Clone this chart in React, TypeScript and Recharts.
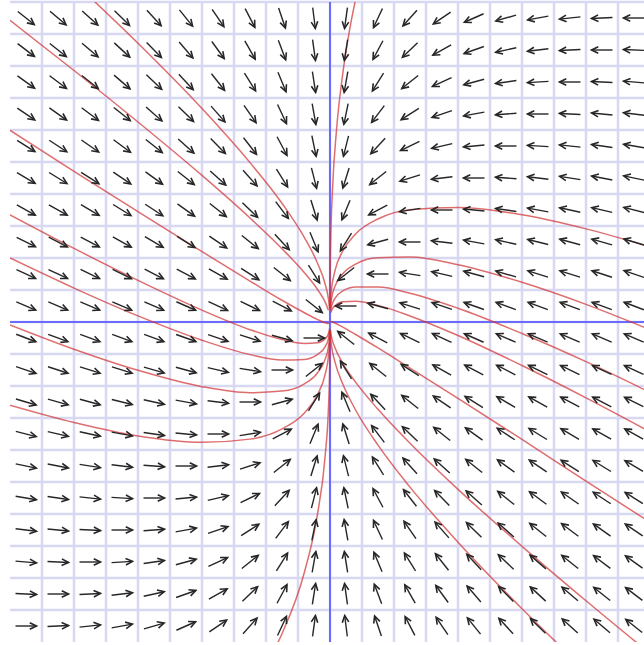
import { ComposedChart, Line, Scatter, XAxis, YAxis, CartesianGrid, ReferenceLine } from 'recharts';

// grid / axis ticks (one unit per cell)
const gridTicks = [-10, -9, -8, -7, -6, -5, -4, -3, -2, -1, 0, 1, 2, 3, 4, 5, 6, 7, 8, 9, 10];
// arrow positions = cell centres
const cellCenters = [-9.5, -8.5, -7.5, -6.5, -5.5, -4.5, -3.5, -2.5, -1.5, -0.5, 0.5, 1.5, 2.5, 3.5, 4.5, 5.5, 6.5, 7.5, 8.5, 9.5];
// linear field x' = -2.5x, y' = x - y (read from the arrow directions)
const fieldMatrix = [
  [-2.5, 0],
  [1, -1],
];

// solution curves, [x, y] points
const curveTop = [[0.0003, 0.45], [0.003, 1.13], [0.02, 2.41], [0.08, 4.17], [0.2, 5.96], [0.4, 7.77], [0.6, 9.06], [0.8, 10.08], [1.0, 10.93]];
const curveBottom = [[-2.0, -10.71], [-1.5, -9.74], [-0.8, -7.82], [-0.4, -6.06], [-0.15, -4.17], [-0.05, -2.72], [-0.01, -1.44], [-0.002, -0.76], [-0.0002, -0.3]];
const curveUL1 = [[-8, 10.62], [-6, 8.71], [-4, 6.67], [-2.5, 4.98], [-1.5, 3.71], [-0.8, 2.64], [-0.4, 1.86], [-0.15, 1.18], [-0.05, 0.73], [-0.015, 0.44]];
const curveUL2 = [[-10, 9.43], [-8, 7.86], [-6, 6.25], [-4, 4.58], [-2.5, 3.25], [-1.5, 2.29], [-0.8, 1.54], [-0.4, 1.03], [-0.15, 0.62], [-0.05, 0.37]];
const curveL1 = [[-10, 5.99], [-8, 4.71], [-6, 3.45], [-4, 2.2], [-2.5, 1.28], [-1.5, 0.68], [-0.8, 0.29], [-0.4, 0.08], [-0.15, -0.026], [-0.05, -0.048], [-0.01, -0.036]];
const curveL2 = [[-10, 3.35], [-8, 2.3], [-6, 1.3], [-4, 0.37], [-2.5, -0.24], [-1.5, -0.55], [-0.8, -0.67], [-0.4, -0.65], [-0.15, -0.52], [-0.05, -0.365], [-0.01, -0.2]];
const curveL3 = [[-10, 2.0], [-8, 1.06], [-6, 0.19], [-4, -0.57], [-2.5, -1.02], [-1.5, -1.19], [-0.8, -1.17], [-0.4, -1.02], [-0.15, -0.77], [-0.05, -0.53], [-0.01, -0.29]];
const curveL4 = [[-10, -0.09], [-8, -0.85], [-6, -1.51], [-4, -2.02], [-2.5, -2.21], [-1.5, -2.16], [-0.8, -1.93], [-0.4, -1.6], [-0.15, -1.16], [-0.05, -0.78], [-0.01, -0.42], [-0.003, -0.26]];
const curveL5 = [[-10, -2.6], [-8, -3.14], [-6, -3.56], [-4, -3.76], [-2.5, -3.66], [-1.5, -3.34], [-0.8, -2.84], [-0.4, -2.29], [-0.15, -1.63], [-0.05, -1.08], [-0.01, -0.58], [-0.0015, -0.27]];
const curveR1 = [[0.005, 0.43], [0.02, 0.74], [0.05, 1.05], [0.15, 1.58], [0.4, 2.22], [0.8, 2.75], [1.5, 3.22], [2.5, 3.51], [4, 3.58], [6, 3.35], [8, 2.91], [10, 2.35]];
const curveR2 = [[0.01, 0.4], [0.05, 0.74], [0.15, 1.1], [0.4, 1.51], [0.8, 1.81], [1.5, 2.01], [2.5, 2.03], [4, 1.79], [6, 1.24], [8, 0.55], [10, -0.24]];
const curveR3 = [[0.02, 0.36], [0.05, 0.5], [0.15, 0.73], [0.4, 0.97], [0.8, 1.09], [1.5, 1.09], [2.5, 0.9], [4, 0.43], [6, -0.36], [8, -1.24], [10, -2.2]];
const curveR4 = [[0.03, 0.3], [0.05, 0.36], [0.15, 0.5], [0.4, 0.63], [0.8, 0.65], [1.5, 0.52], [2.5, 0.19], [4, -0.42], [6, -1.36], [8, -2.37], [10, -3.43]];
const curveR5 = [[0.01, 0.02], [0.05, 0.01], [0.15, -0.03], [0.4, -0.16], [0.8, -0.39], [1.5, -0.81], [2.5, -1.44], [4, -2.39], [6, -3.67], [8, -4.97], [10, -6.26]];
const curveR6 = [[0.01, -0.24], [0.05, -0.48], [0.15, -0.79], [0.4, -1.29], [0.8, -1.88], [1.5, -2.73], [2.5, -3.79], [4, -5.23], [6, -7.01], [8, -8.71], [10, -10.36]];
const curveR7 = [[0.005, -0.29], [0.01, -0.39], [0.05, -0.76], [0.15, -1.23], [0.4, -1.94], [0.8, -2.75], [1.5, -3.85], [2.5, -5.16], [4, -6.88], [6, -8.96], [8, -10.89]];

const curves = [
  curveTop, curveBottom, curveUL1, curveUL2,
  curveL1, curveL2, curveL3, curveL4, curveL5,
  curveR1, curveR2, curveR3, curveR4, curveR5, curveR6, curveR7,
].map((pts) => pts.map(([x, y]) => ({ x, y })));

const cells = cellCenters.flatMap((y) => cellCenters.map((x) => ({ x, y })));

const ARROW_COLOR = '#262626';

// draws one direction-field arrow centred on the cell
function Arrow(props: any) {
  const { cx, cy, payload } = props;
  if (cx == null || cy == null) return null;
  const vx = fieldMatrix[0][0] * payload.x + fieldMatrix[0][1] * payload.y;
  const vy = fieldMatrix[1][0] * payload.x + fieldMatrix[1][1] * payload.y;
  const len = Math.hypot(vx, vy) || 1;
  const ux = vx / len;
  const uy = -vy / len;
  const half = 10.5;
  const tx = cx - ux * half;
  const ty = cy - uy * half;
  const hx = cx + ux * half;
  const hy = cy + uy * half;
  const ang = Math.atan2(uy, ux);
  const head = 7.5;
  const spread = 0.45;
  const ax = hx - head * Math.cos(ang - spread);
  const ay = hy - head * Math.sin(ang - spread);
  const bx = hx - head * Math.cos(ang + spread);
  const by = hy - head * Math.sin(ang + spread);
  return (
    <g>
      <line x1={tx} y1={ty} x2={hx} y2={hy} stroke={ARROW_COLOR} strokeWidth={1.4} />
      <path d={`M${ax},${ay}L${hx},${hy}L${bx},${by}`} fill="none" stroke={ARROW_COLOR} strokeWidth={1.6} />
    </g>
  );
}

export default function App() {
  return (
    <div style={{ position: 'absolute', left: 0, top: 0, width: 644, height: 645, overflow: 'hidden', background: '#fff' }}>
      <ComposedChart width={660} height={645} margin={{ top: 2, right: 10, bottom: 3, left: 10 }}>
        <CartesianGrid
          stroke="#d8d8f3"
          strokeWidth={2.5}
          verticalValues={gridTicks}
          horizontalValues={gridTicks}
        />
        <XAxis type="number" dataKey="x" domain={[-10, 10]} ticks={gridTicks} allowDataOverflow hide />
        <YAxis type="number" dataKey="y" domain={[-10, 10]} ticks={gridTicks} allowDataOverflow hide />
        <ReferenceLine x={0} stroke="#6b6bff" strokeWidth={2} />
        <ReferenceLine y={0} stroke="#6b6bff" strokeWidth={2} />
        <Scatter data={cells} shape={<Arrow />} isAnimationActive={false} />
        {curves.map((pts, i) => (
          <Line
            key={i}
            data={pts}
            dataKey="y"
            type="monotone"
            stroke="#d03030"
            strokeOpacity={0.7}
            strokeWidth={1.5}
            dot={false}
            activeDot={false}
            isAnimationActive={false}
          />
        ))}
      </ComposedChart>
    </div>
  );
}
